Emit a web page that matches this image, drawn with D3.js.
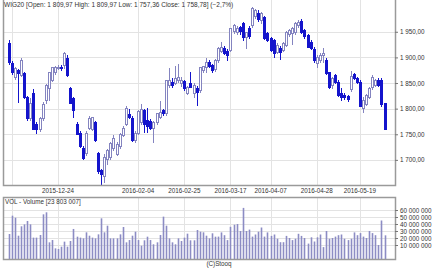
<!DOCTYPE html>
<html>
<head>
<meta charset="utf-8">
<script src="https://cdn.jsdelivr.net/npm/d3@7"></script>
<style>
body { margin: 0; background: #fff; }
svg { display: block; font-family: "Liberation Sans", Arial, sans-serif; }
</style>
</head>
<body>
<svg id="chart" width="439" height="268"></svg>
<script>
// WIG20 daily candles, 2015-12-02 .. 2016-06-01
var holidays = ["2015-12-25", "2015-12-31", "2016-01-01", "2016-01-06",
  "2016-03-25", "2016-03-28", "2016-05-03", "2016-05-26"];
var fmtDay = d3.timeFormat("%Y-%m-%d");
var dates = d3.timeDay.range(new Date(2015, 11, 2), new Date(2016, 5, 2))
  .filter(function(d) { return d.getDay() % 6 !== 0; })
  .map(fmtDay)
  .filter(function(s) { return holidays.indexOf(s) < 0; });

var open = [1928,1888,1861,1874,1865,1868,1821,1780,1829,1770,
  1760,1780,1815,1839,1855,1871,1880,1881,1884,1898,
  1839,1819,1770,1752,1723,1713,1762,1760,1772,1713,
  1679,1667,1700,1705,1722,1711,1726,1748,1770,1788,
  1780,1737,1752,1772,1796,1776,1775,1762,1772,1782,
  1796,1790,1845,1851,1850,1855,1849,1853,1829,1850,
  1829,1840,1835,1874,1880,1890,1884,1876,1894,1912,
  1918,1912,1914,1950,1948,1958,1966,1938,1957,1963,
  1980,1986,1972,1977,1946,1936,1932,1910,1918,1914,
  1923,1944,1947,1948,1962,1971,1953,1943,1930,1916,
  1888,1894,1904,1894,1870,1845,1865,1851,1829,1825,
  1823,1838,1866,1858,1851,1801,1809,1821,1841,1845,
  1855,1855,1809.97];
var high = [1934,1892,1882,1878,1898,1872,1824,1821,1839,1774,
  1784,1812,1848,1872,1882,1884,1885,1886,1910,1904,
  1842,1822,1774,1756,1727,1756,1786,1784,1776,1716,
  1682,1711,1722,1734,1748,1734,1752,1766,1806,1800,
  1786,1756,1798,1810,1800,1801,1780,1776,1792,1815,
  1800,1856,1880,1860,1884,1888,1862,1856,1845,1871,
  1850,1845,1882,1884,1898,1894,1888,1896,1920,1930,
  1922,1916,1958,1966,1962,1962,1970,1950,1962,1999,
  1995,1992,1988,1980,1950,1940,1936,1928,1922,1930,
  1952,1956,1960,1970,1972,1975,1956,1946,1934,1920,
  1904,1908,1918,1898,1872,1862,1868,1855,1841,1830,
  1826,1874,1870,1862,1855,1822,1828,1842,1865,1858,
  1860,1859,1809.97];
var low = [1886,1866,1856,1811,1862,1818,1776,1776,1758,1750,
  1755,1776,1810,1815,1852,1866,1875,1874,1878,1862,
  1809,1782,1748,1724,1699,1708,1758,1756,1734,1672,
  1651,1654,1690,1700,1718,1708,1722,1744,1766,1780,
  1735,1732,1748,1768,1752,1752,1758,1732,1768,1780,
  1786,1786,1840,1840,1846,1850,1842,1835,1826,1840,
  1821,1806,1830,1870,1870,1880,1870,1872,1890,1908,
  1905,1893,1910,1946,1944,1944,1932,1916,1936,1958,
  1974,1970,1966,1933,1930,1911,1898,1906,1894,1910,
  1920,1940,1924,1944,1958,1946,1936,1918,1914,1890,
  1880,1890,1890,1866,1838,1838,1848,1822,1815,1816,
  1812,1832,1855,1848,1803,1791,1805,1818,1836,1842,
  1842,1804,1757.36];
var close = [1890,1871,1878,1868,1894,1821,1780,1811,1760,1760,
  1780,1809,1845,1870,1880,1880,1881,1878,1908,1865,
  1811,1796,1750,1727,1703,1752,1780,1782,1737,1677,
  1671,1704,1718,1732,1742,1730,1750,1762,1801,1783,
  1737,1752,1795,1798,1770,1766,1762,1772,1790,1792,
  1790,1854,1855,1845,1859,1860,1855,1839,1841,1842,
  1845,1832,1880,1882,1890,1882,1874,1893,1917,1920,
  1908,1904,1956,1962,1957,1950,1938,1949,1940,1996,
  1992,1973,1985,1937,1933,1914,1908,1923,1910,1927,
  1949,1953,1957,1967,1969,1949,1940,1920,1918,1894,
  1900,1904,1908,1868,1841,1858,1851,1825,1821,1821,
  1817,1862,1858,1851,1805,1815,1825,1839,1860,1855,
  1845,1808,1758.78];
// volume in millions of shares
var volume = [25.7,51.9,49,23.3,36.7,39.5,44.3,39.5,20.5,20.5,
  24.3,53.8,56.7,13.8,17.1,5.2,4.3,7.6,14.8,7.6,
  15.7,32.9,21.9,20.5,19.5,28.1,23.3,20.5,19.5,25.2,
  48.1,28.1,37.6,19.5,19.5,19.5,25.2,35.7,13.8,17.1,
  23.3,29,17.1,9,16.7,21.9,17.1,11,13.8,24.3,
  50.5,37.6,19.5,13.8,11,19.5,15.7,20.5,26.2,16.7,
  16.7,31.4,29,28.1,23.3,19.5,26.7,21.9,22,28,
  24,17,36,39,40,30,63,30,32,22,
  25,29,35,22,28,23,25,19,14,14,
  23,20,17,19,26,23,20,12,21,15,
  21,25,7,30,19,20,22,24,25,19,
  17,19,28,24,27,22,20,30,27,24,
  10,45,23.803007];

var priceTicks = [1700, 1750, 1800, 1850, 1900, 1950];
var volTicks = [10e6, 20e6, 30e6, 40e6, 50e6, 60e6];
var gridDates = ["2015-12-03", "2015-12-24", "2016-02-04", "2016-02-25",
  "2016-03-17", "2016-04-07", "2016-04-28", "2016-05-19"];
var labelDates = gridDates.slice(1);

var pl = d3.formatLocale({decimal: ",", thousands: " ", grouping: [3], currency: ["", ""]});
var fmtPrice = pl.format(",.2f");
var fmtInt = pl.format(",d");

var svg = d3.select("#chart");
var fontSize = 6.3;
var textColor = "#333";
var gridColor = "#e3e3e3";
var frameColor = "#9a9a9a";

var plotL = 3, plotR = 395, plotT = 0, plotB = 185;
var volT = 197, volB = 259;

var x = d3.scaleBand().domain(dates).range([7.2, 7.2 + dates.length * 3.08]);
var y = d3.scaleLinear().domain([1651, 2012]).range([plotB, plotT]);
var yv = d3.scaleLinear().domain([-10e6, 70e6]).range([volB, 203]);

function cx(d) { return Math.round(x(d) + x.bandwidth() / 2); }

var rows = dates.map(function(d, i) {
  return {date: d, o: open[i], h: high[i], l: low[i], c: close[i], v: volume[i] * 1e6};
});

// grid
var grid = svg.append("g").attr("stroke", gridColor).attr("shape-rendering", "crispEdges");
grid.selectAll(".hg").data(priceTicks).enter().append("line")
  .attr("x1", plotL).attr("x2", plotR)
  .attr("y1", function(d) { return Math.round(y(d)) + 0.5; })
  .attr("y2", function(d) { return Math.round(y(d)) + 0.5; });
grid.selectAll(".vg").data(volTicks).enter().append("line")
  .attr("x1", plotL).attr("x2", plotR)
  .attr("y1", function(d) { return Math.round(yv(d)) + 0.5; })
  .attr("y2", function(d) { return Math.round(yv(d)) + 0.5; });
gridDates.forEach(function(d) {
  var gx = cx(d) + 0.5;
  grid.append("line").attr("x1", gx).attr("x2", gx).attr("y1", plotT).attr("y2", plotB);
  grid.append("line").attr("x1", gx).attr("x2", gx).attr("y1", volT).attr("y2", volB);
});

// candles
var candles = svg.append("g").attr("shape-rendering", "crispEdges");
var up = "#8484c0", down = "#1414cc";
candles.selectAll("line").data(rows).enter().append("line")
  .attr("x1", function(d) { return cx(d.date) + 0.5; })
  .attr("x2", function(d) { return cx(d.date) + 0.5; })
  .attr("y1", function(d) { return y(d.h); })
  .attr("y2", function(d) { return y(d.l); })
  .attr("stroke", function(d) { return d.c >= d.o ? up : down; });
candles.selectAll("rect").data(rows).enter().append("rect")
  .attr("x", function(d) { return cx(d.date) - 0.5; })
  .attr("width", 2)
  .attr("y", function(d) { return y(Math.max(d.o, d.c)); })
  .attr("height", function(d) { return Math.max(1, Math.abs(y(d.o) - y(d.c))); })
  .attr("fill", function(d) { return d.c >= d.o ? "#fff" : down; })
  .attr("stroke", function(d) { return d.c >= d.o ? up : down; });

// volume bars
svg.append("g").selectAll("rect").data(rows).enter().append("rect")
  .attr("x", function(d) { return cx(d.date) - 0.3; })
  .attr("width", 1.6)
  .attr("y", function(d) { return yv(d.v); })
  .attr("height", function(d) { return volB - yv(d.v); })
  .attr("fill", "#8c8cc4");

// frames
svg.append("path")
  .attr("d", "M" + (plotL + 0.5) + "," + plotT + "V" + (plotB + 0.5) + "H" + (plotR + 0.5) + "V" + plotT)
  .attr("fill", "none").attr("stroke", frameColor).attr("stroke-width", 1.5);
svg.append("rect")
  .attr("x", plotL + 0.5).attr("y", volT + 0.5)
  .attr("width", plotR - plotL).attr("height", volB - volT)
  .attr("fill", "none").attr("stroke", frameColor).attr("stroke-width", 1.5);

// axes
function styleAxis(g) {
  g.select(".domain").remove();
  g.selectAll("text").attr("fill", textColor).style("font-size", fontSize + "px");
  g.selectAll("line").attr("stroke", "#777");
}
svg.append("g").attr("transform", "translate(" + plotR + ",0)")
  .call(d3.axisRight(y).tickValues(priceTicks).tickSize(3).tickPadding(2).tickFormat(fmtPrice))
  .call(styleAxis);
svg.append("g").attr("transform", "translate(" + plotR + ",0)")
  .call(d3.axisRight(yv).tickValues(volTicks).tickSize(3).tickPadding(2).tickFormat(fmtInt))
  .call(styleAxis);
svg.append("g").attr("transform", "translate(0," + plotB + ")")
  .call(d3.axisBottom(x).tickValues(labelDates).tickSize(0).tickPadding(4))
  .call(styleAxis);

// titles
var n = rows.length - 1;
var chg = (close[n] / close[n - 1] - 1) * 100;
svg.append("text").attr("x", 4).attr("y", 7)
  .attr("fill", textColor).style("font-size", "6.5px")
  .text("WIG20 [Open: " + fmtPrice(open[n]) + "  High: " + fmtPrice(high[n]) +
    "  Low: " + fmtPrice(low[n]) + "  Close: " + fmtPrice(close[n]) + "] (" +
    pl.format(",.1f")(chg) + "%)");
svg.append("text").attr("x", 5).attr("y", volT + 7)
  .attr("fill", textColor).style("font-size", fontSize + "px")
  .text("VOL - Volume [" + fmtInt(Math.round(volume[n] * 1e6)) + "]");
svg.append("text").attr("x", 219).attr("y", 266).attr("text-anchor", "middle")
  .attr("fill", textColor).style("font-size", fontSize + "px")
  .text("(C)Stooq");
</script>
</body>
</html>
